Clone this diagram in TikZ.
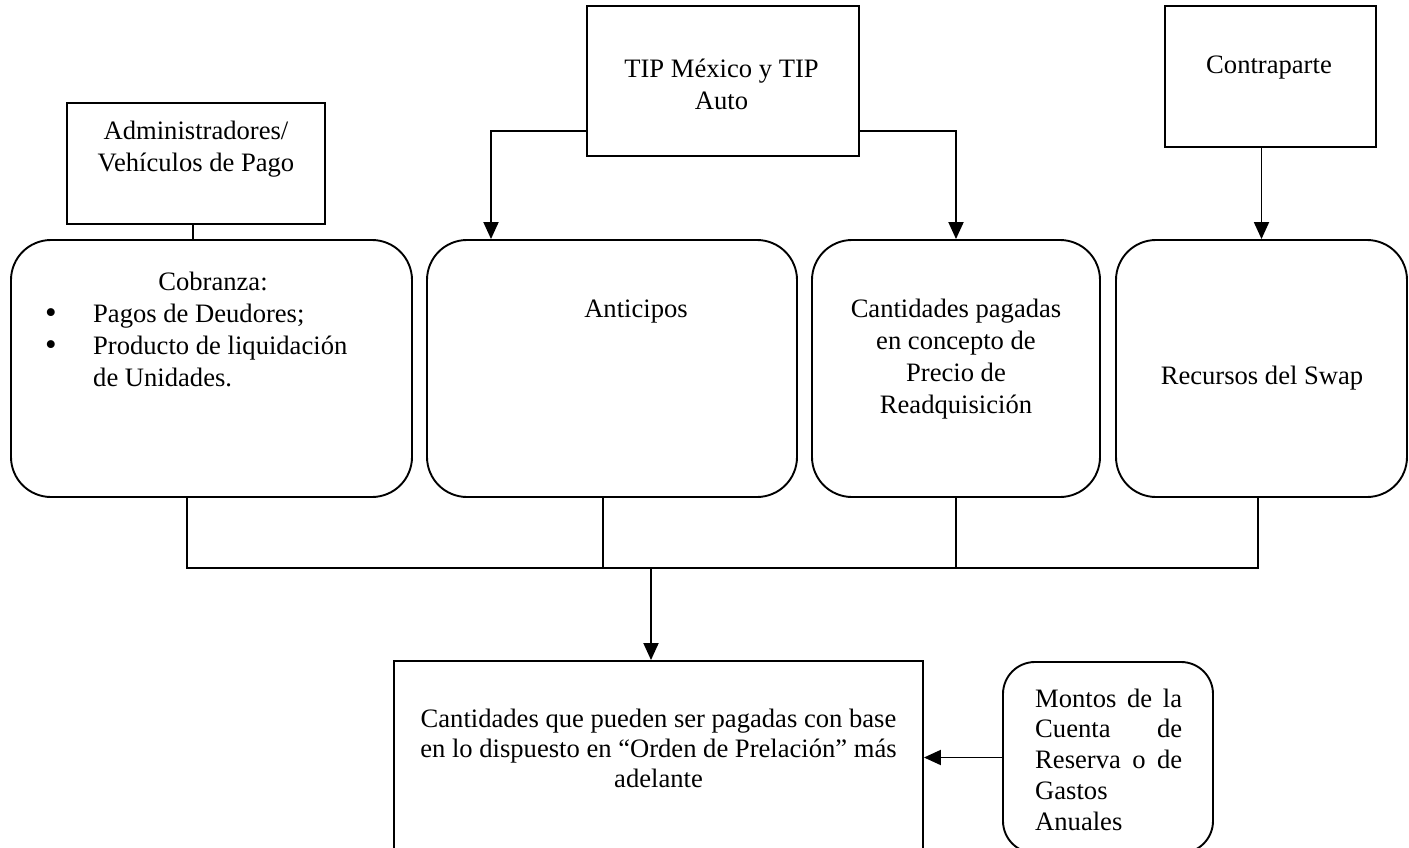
\documentclass[tikz,border=0pt]{standalone}
\usepackage{fontspec}
\setmainfont{Liberation Serif}
\usetikzlibrary{arrows.meta,calc}
\newcommand\fsA{\fontsize{26.6}{32}\selectfont}
\newcommand\fsB{\fontsize{26.6}{30}\selectfont}
\newcommand\fsC{\fontsize{26.6}{30.75}\selectfont}
\newcommand\tp{\rule{0pt}{20pt}}
\newcommand\bul{\llap{\makebox[48pt][l]{\raisebox{-1pt}{\fontsize{33}{33}\selectfont\textbullet}}}}
\begin{document}
\begin{tikzpicture}[x=1pt,y=-1pt,
  sq/.style={draw,line width=1.9pt,inner sep=0pt},
  rd/.style={sq,rounded corners=40pt},
  rs/.style={sq,rounded corners=32pt},
  ln/.style={line width=1.9pt},
  arr/.style={ln,-{Triangle[width=15pt,length=17pt]}},
  txt/.style={inner sep=0pt,anchor=north,align=center,font=\fsA}]
\useasboundingbox (0,0) rectangle (1409,848);
% boxes
\node[sq,minimum width=258pt,minimum height=121pt] (adm) at (196,163.5) {};
\node[sq,minimum width=272pt,minimum height=150pt] (tip) at (723,81) {};
\node[sq,minimum width=211pt,minimum height=141pt] (con) at (1270.5,76.5) {};
\node[rd,minimum width=401pt,minimum height=257pt] (cob) at (211.5,368.5) {};
\node[rd,minimum width=370pt,minimum height=257pt] (ant) at (612,368.5) {};
\node[rd,minimum width=288pt,minimum height=257pt] (can) at (956,368.5) {};
\node[rd,minimum width=291pt,minimum height=257pt] (rec) at (1261.5,368.5) {};
\node[sq,minimum width=529pt,minimum height=199pt] (main) at (658.5,760.5) {};
\node[rs,minimum width=210pt,minimum height=191pt] (mon) at (1108,757.5) {};
% texts
\node[txt] (tadm) at (196,119) {\tp Administradores/\\Vehículos de Pago};
\node[txt] (ttip) at (721.5,57) {\tp TIP México y TIP\\Auto};
\node[txt] (tcon) at (1269,53) {\tp Contraparte};
\node[txt] (tcob) at (213,270) {\tp Cobranza:};
\node[txt,anchor=north west,align=left] (tlist) at (93,302)
  {\tp\bul Pagos de Deudores;\\\bul Producto de liquidación\\de Unidades.};
\node[txt] (tant) at (636,297) {\tp Anticipos};
\node[txt] (tcan) at (956,297) {\tp Cantidades pagadas\\en concepto de\\Precio de\\Readquisición};
\node[txt] (trec) at (1262,364) {\tp Recursos del Swap};
\node[txt,font=\fsB] (tmain) at (658.5,707)
  {\tp Cantidades que pueden ser pagadas con base\\en lo dispuesto en “Orden de Prelación” más\\adelante};
\node[txt,anchor=north west,align=left,font=\fsC] (tmon) at (1035,687)
  {\tp\makebox[147pt][l]{Montos\hfill de\hfill la}\\
   \makebox[147pt][l]{Cuenta\hfill de}\\
   \makebox[147pt][l]{Reserva\hfill o\hfill de}\\
   Gastos\\Anuales};
% connectors
\draw[ln] ([xshift=-3pt]adm.south) -- ([xshift=-3pt]adm.south |- cob.north);
\draw[arr] ([yshift=-50pt]tip.west) -| ([xshift=-121pt]ant.north);
\draw[arr] ([yshift=-50pt]tip.east) -| (can.north);
\draw[arr] (con.south -| rec.north) -- (rec.north);
\coordinate (bus) at (651,568);
\draw[ln] ([xshift=-24.5pt]cob.south) |- ([xshift=-3.5pt]rec.south |- bus) -- ([xshift=-3.5pt]rec.south);
\draw[ln] ([xshift=-9pt]ant.south) -- ([xshift=-9pt]ant.south |- bus);
\draw[ln] (can.south) -- (can.south |- bus);
\draw[arr] (bus) -- (bus |- main.north);
\draw[arr] (mon.west) -- (mon.west -| main.east);
\end{tikzpicture}
\end{document}
